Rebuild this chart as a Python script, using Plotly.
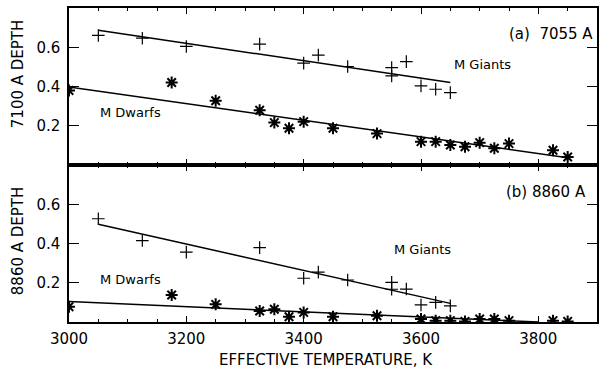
import plotly.graph_objects as go
from plotly.subplots import make_subplots

# ---- Panel (a) 7055 A ----
giants_a_T = [3050, 3125, 3200, 3325, 3400, 3425, 3475, 3550, 3550, 3575, 3600, 3625, 3650]
giants_a_depth = [0.66, 0.646, 0.604, 0.616, 0.519, 0.560, 0.502, 0.496, 0.454, 0.527, 0.403, 0.386, 0.369]
dwarfs_a_T = [3000, 3175, 3250, 3325, 3350, 3375, 3400, 3450, 3525, 3600, 3625, 3650, 3675, 3700, 3725, 3750, 3825, 3850]
dwarfs_a_depth = [0.38, 0.42, 0.327, 0.279, 0.216, 0.187, 0.221, 0.187, 0.16, 0.119, 0.119, 0.102, 0.093, 0.114, 0.085, 0.109, 0.075, 0.041]
giants_a_fit_T = [3050, 3650]
giants_a_fit_depth = [0.687, 0.42]
dwarfs_a_fit_T = [3000, 3850]
dwarfs_a_fit_depth = [0.398, 0.037]

# ---- Panel (b) 8860 A ----
giants_b_T = [3050, 3125, 3200, 3325, 3400, 3425, 3475, 3550, 3550, 3575, 3600, 3625, 3650]
giants_b_depth = [0.526, 0.415, 0.356, 0.379, 0.223, 0.254, 0.214, 0.202, 0.167, 0.168, 0.087, 0.10, 0.082]
dwarfs_b_T = [3000, 3175, 3250, 3325, 3350, 3375, 3400, 3450, 3525, 3600, 3625, 3650, 3675, 3700, 3725, 3750, 3825, 3850]
dwarfs_b_depth = [0.078, 0.138, 0.09, 0.056, 0.065, 0.027, 0.049, 0.027, 0.032, 0.015, 0.007, 0.007, 0.003, 0.015, 0.015, 0.007, 0.007, 0.003]
giants_b_fit_T = [3050, 3650]
giants_b_fit_depth = [0.498, 0.095]
dwarfs_b_fit_T = [3000, 3800]
dwarfs_b_fit_depth = [0.104, 0.0]

x_tick_vals = [3000, 3200, 3400, 3600, 3800]
y_tick_vals = [0.2, 0.4, 0.6]

FONT = "DejaVu Sans"

fig = make_subplots(rows=2, cols=1, shared_xaxes=True, vertical_spacing=0)

def add_panel(row, gT, gD, dT, dD, gfT, gfD, dfT, dfD):
    fig.add_trace(go.Scatter(x=gfT, y=gfD, mode="lines", line=dict(color="black", width=1.5),
                             showlegend=False, hoverinfo="skip"), row=row, col=1)
    fig.add_trace(go.Scatter(x=dfT, y=dfD, mode="lines", line=dict(color="black", width=1.5),
                             showlegend=False, hoverinfo="skip"), row=row, col=1)
    fig.add_trace(go.Scatter(x=gT, y=gD, mode="markers",
                             marker=dict(symbol="cross-thin", size=9, color="black",
                                         line=dict(color="black", width=1.2)),
                             showlegend=False), row=row, col=1)
    fig.add_trace(go.Scatter(x=dT, y=dD, mode="markers",
                             marker=dict(symbol="asterisk", size=10, color="black",
                                         line=dict(color="black", width=2)),
                             showlegend=False), row=row, col=1)

add_panel(1, giants_a_T, giants_a_depth, dwarfs_a_T, dwarfs_a_depth,
          giants_a_fit_T, giants_a_fit_depth, dwarfs_a_fit_T, dwarfs_a_fit_depth)
add_panel(2, giants_b_T, giants_b_depth, dwarfs_b_T, dwarfs_b_depth,
          giants_b_fit_T, giants_b_fit_depth, dwarfs_b_fit_T, dwarfs_b_fit_depth)

xcommon = dict(range=[3000, 3900], showgrid=False, zeroline=False, showline=True,
               linecolor="black", linewidth=1.5, mirror="ticks", ticks="inside",
               ticklen=6, tickwidth=1.2, tickcolor="black", tickvals=x_tick_vals,
               ticklabelstandoff=2,
               minor=dict(dtick=50, tick0=3000, ticks="inside", ticklen=3, tickwidth=1, tickcolor="black"),
               tickfont=dict(family=FONT, size=15, color="black"))
ycommon = dict(range=[0, 0.8], showgrid=False, zeroline=False, showline=True,
               linecolor="black", linewidth=1.5, mirror="ticks", ticks="inside",
               ticklen=10, tickwidth=1.2, tickcolor="black", tickvals=y_tick_vals,
               ticktext=["0.2", "0.4", "0.6"], ticklabelstandoff=4,
               tickfont=dict(family=FONT, size=15, color="black"))

fig.update_xaxes(**xcommon)
fig.update_xaxes(showticklabels=False, row=1, col=1)
fig.update_yaxes(**ycommon)

annos = [
    dict(x=3897, y=0.668, xref="x", yref="y", text="(a)  7055 A", xanchor="right", font=dict(size=15)),
    dict(x=3652, y=0.51, xref="x", yref="y", text="M Giants", xanchor="left", font=dict(size=13)),
    dict(x=3049, y=0.265, xref="x", yref="y", text="M Dwarfs", xanchor="left", font=dict(size=13)),
    dict(x=3885, y=0.663, xref="x2", yref="y2", text="(b) 8860 A", xanchor="right", font=dict(size=15)),
    dict(x=3550, y=0.367, xref="x2", yref="y2", text="M Giants", xanchor="left", font=dict(size=13)),
    dict(x=3049, y=0.219, xref="x2", yref="y2", text="M Dwarfs", xanchor="left", font=dict(size=13)),
    dict(x=327, y=360, xref="paper", yref="paper", text="EFFECTIVE TEMPERATURE, K", font=dict(size=15)),
    dict(x=18, y=74, xref="paper", yref="paper", text="7100 A DEPTH", textangle=-90, font=dict(size=15)),
    dict(x=18, y=241, xref="paper", yref="paper", text="8860 A DEPTH", textangle=-90, font=dict(size=15)),
]
W, H = 599, 373
L, R, T, B = 69, 0, 8, 51
for a in annos:
    a.setdefault("showarrow", False)
    a["font"] = dict(family=FONT, color="black", size=a["font"]["size"])
    a.setdefault("yanchor", "middle")
    if a["xref"] == "paper":
        a["x"] = (a["x"] - L) / (W - L - R)
        a["y"] = 1 - (a["y"] - T) / (H - T - B)
        a["xanchor"] = "center"
    fig.add_annotation(**a)

fig.update_layout(width=W, height=H, margin=dict(l=L, r=R, t=T, b=B),
                  plot_bgcolor="white", paper_bgcolor="white",
                  font=dict(family=FONT, color="black"))

fig.write_html("out.html")
